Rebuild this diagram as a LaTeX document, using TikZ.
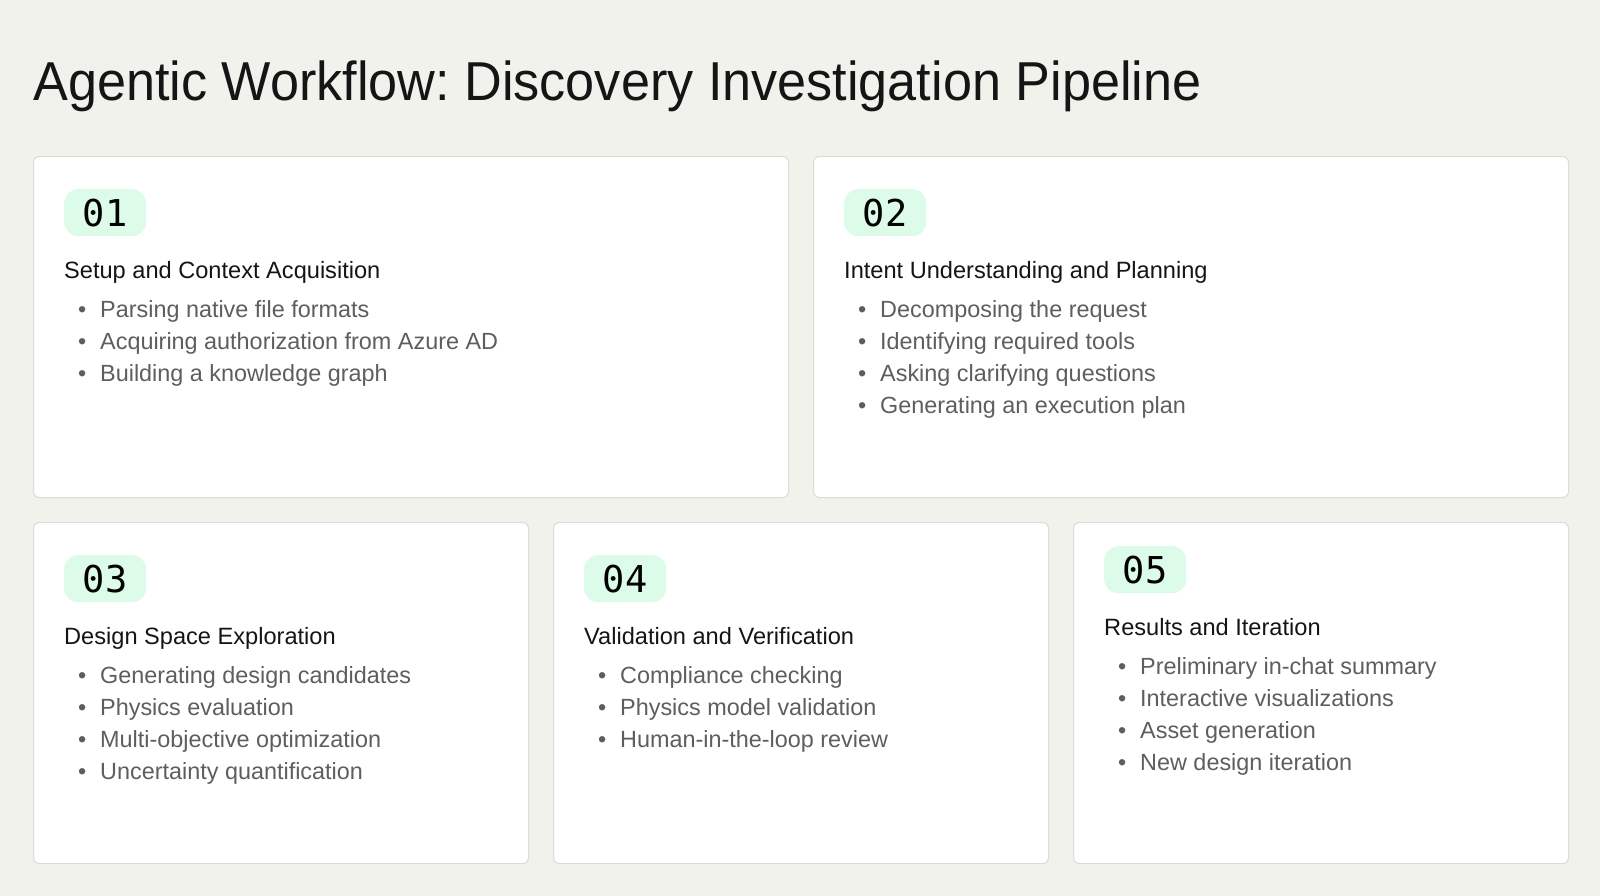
\documentclass[tikz,border=0pt]{standalone}
\usepackage{fontspec}
\setmainfont{Liberation Sans}
\newfontfamily\badgefont{DejaVu Sans Mono}
\usepackage{xcolor}
\usetikzlibrary{positioning}
\frenchspacing

\definecolor{pagebg}{HTML}{F2F2EC}
\definecolor{cardline}{HTML}{DCDCD6}
\definecolor{mint}{HTML}{DCFBE8}
\definecolor{headtext}{HTML}{151515}
\definecolor{itemtext}{HTML}{5E5E5E}

\newcommand{\bul}{\makebox[36pt][l]{\hspace{14pt}\textbullet}}

\begin{document}
\begin{tikzpicture}[x=1pt, y=-1pt, node distance=24pt]
 % We define the styles for the cards, badges and texts
 \tikzset{
block/.style = {draw=cardline, fill=white, line width=1pt, rounded corners=6pt, minimum height=341pt, inner sep=0pt},
badge/.style = {fill=mint, rounded corners=14pt, minimum width=82pt, minimum height=47pt, inner sep=0pt, font=\badgefont\fontsize{37}{37}\selectfont, text=black},
heading/.style = {inner sep=0pt, font=\fontsize{23.6}{28}\selectfont, text=headtext},
item/.style = {inner sep=0pt, font=\fontsize{23.4}{28}\selectfont, text=itemtext, anchor=base west},
}
 \useasboundingbox[fill=pagebg] (0,0) rectangle (1600,896);

 % Title
 \node [anchor=base west, inner sep=0pt, text=headtext] (title) at (33,101)
   {\scalebox{1}[1.05]{\fontsize{52.2}{60}\selectfont Agentic Workflow: Discovery Investigation Pipeline}};

 % Top row
 \node [block, minimum width=755pt, anchor=north west] (card1) at (33,156) {};
 \node [block, minimum width=755pt, right=of card1] (card2) {};

 % Bottom row
 \node [block, minimum width=495pt, anchor=north west] (card3) at (33,522) {};
 \node [block, minimum width=495pt, right=of card3] (card4) {};
 \node [block, minimum width=495pt, right=of card4] (card5) {};

 % Card 01
 \node [badge, anchor=north west] (badge1) at ([xshift=31, yshift=-33]card1.north west) {01};
 \node [heading, anchor=base west] (head1) at ([yshift=-42]badge1.south west) {Setup and Context Acquisition};
 \foreach \txt [count=\i] in {Parsing native file formats, Acquiring authorization from Azure AD, Building a knowledge graph}
   \node [item] (item1-\i) at ([yshift={-7-32*\i}]head1.base west) {\bul\txt};

 % Card 02
 \node [badge, anchor=north west] (badge2) at ([xshift=31, yshift=-33]card2.north west) {02};
 \node [heading, anchor=base west] (head2) at ([yshift=-42]badge2.south west) {Intent Understanding and Planning};
 \foreach \txt [count=\i] in {Decomposing the request, Identifying required tools, Asking clarifying questions, Generating an execution plan}
   \node [item] (item2-\i) at ([yshift={-7-32*\i}]head2.base west) {\bul\txt};

 % Card 03
 \node [badge, anchor=north west] (badge3) at ([xshift=31, yshift=-33]card3.north west) {03};
 \node [heading, anchor=base west] (head3) at ([yshift=-42]badge3.south west) {Design Space Exploration};
 \foreach \txt [count=\i] in {Generating design candidates, Physics evaluation, Multi-objective optimization, Uncertainty quantification}
   \node [item] (item3-\i) at ([yshift={-7-32*\i}]head3.base west) {\bul\txt};

 % Card 04
 \node [badge, anchor=north west] (badge4) at ([xshift=31, yshift=-33]card4.north west) {04};
 \node [heading, anchor=base west] (head4) at ([yshift=-42]badge4.south west) {Validation and Verification};
 \foreach \txt [count=\i] in {Compliance checking, Physics model validation, Human-in-the-loop review}
   \node [item] (item4-\i) at ([yshift={-7-32*\i}]head4.base west) {\bul\txt};

 % Card 05
 \node [badge, anchor=north west] (badge5) at ([xshift=31, yshift=-24]card5.north west) {05};
 \node [heading, anchor=base west] (head5) at ([yshift=-42]badge5.south west) {Results and Iteration};
 \foreach \txt [count=\i] in {Preliminary in-chat summary, Interactive visualizations, Asset generation, New design iteration}
   \node [item] (item5-\i) at ([yshift={-7-32*\i}]head5.base west) {\bul\txt};

\end{tikzpicture}
\end{document}
